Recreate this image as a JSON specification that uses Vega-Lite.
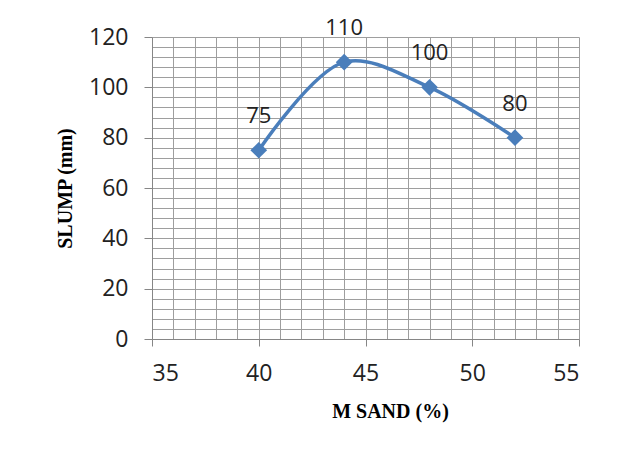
{
  "$schema": "https://vega.github.io/schema/vega-lite/v6.json",
  "autosize": "none",
  "width": 427,
  "height": 302,
  "padding": {"left": 152, "top": 37, "right": 48, "bottom": 111},
  "background": "white",
  "config": {"view": {"stroke": null}},
  "data": {"values": [
    {"sand": 40, "slump": 75},
    {"sand": 44, "slump": 110},
    {"sand": 48, "slump": 100},
    {"sand": 52, "slump": 80}
  ]},
  "encoding": {
    "x": {"field": "sand", "type": "quantitative",
      "scale": {"domain": [35, 55], "nice": false, "zero": false},
      "axis": {
        "title": "M SAND (%)",
        "values": [35,36,37,38,39,40,41,42,43,44,45,46,47,48,49,50,51,52,53,54,55],
        "labelExpr": "datum.value % 5 === 0 ? datum.label : ''",
        "grid": true, "gridColor": "#9e9e9e", "gridWidth": 1,
        "domainColor": "#868686", "domainWidth": 1,
        "tickColor": "#868686", "tickSize": 7,
        "tickOpacity": {"condition": {"test": "datum.value % 5 === 0", "value": 1}, "value": 0},
        "labelFont": "Open Sans", "labelFontSize": 23, "labelColor": "#222222",
        "labelPadding": 27, "labelBaseline": "middle",
        "titleFont": "Liberation Serif", "titleFontSize": 20, "titleFontWeight": "bold", "titleColor": "#000000",
        "titleX": 238, "titleY": 78, "titleBaseline": "alphabetic", "titleAlign": "center"
      }},
    "y": {"field": "slump", "type": "quantitative",
      "scale": {"domain": [0, 120], "nice": false},
      "axis": {
        "title": "SLUMP (mm)",
        "values": [0,4,8,12,16,20,24,28,32,36,40,44,48,52,56,60,64,68,72,76,80,84,88,92,96,100,104,108,112,116,120],
        "labelExpr": "datum.value % 20 === 0 ? datum.label : ''",
        "grid": true, "gridColor": "#9e9e9e", "gridWidth": 1,
        "domainColor": "#868686", "domainWidth": 1,
        "tickColor": "#868686", "tickSize": 8,
        "tickOpacity": {"condition": {"test": "datum.value % 20 === 0", "value": 1}, "value": 0},
        "labelFont": "Open Sans", "labelFontSize": 23, "labelColor": "#222222", "labelPadding": 16,
        "titleFont": "Liberation Serif", "titleFontSize": 20, "titleFontWeight": "bold", "titleColor": "#000000",
        "titleX": -87, "titleY": 151, "titleAngle": -90, "titleBaseline": "middle", "titleAlign": "center"
      }}
  },
  "layer": [
    {"mark": {"type": "line", "interpolate": "catmull-rom", "color": "#4a7ebb", "strokeWidth": 3.5}},
    {"mark": {"type": "point", "shape": "diamond", "filled": true, "color": "#4a7ebb", "size": 280, "opacity": 1}},
    {"mark": {"type": "text", "dy": -34, "font": "Open Sans", "fontSize": 22, "color": "#222222"},
     "encoding": {"text": {"field": "slump", "type": "quantitative"}}}
  ]
}
